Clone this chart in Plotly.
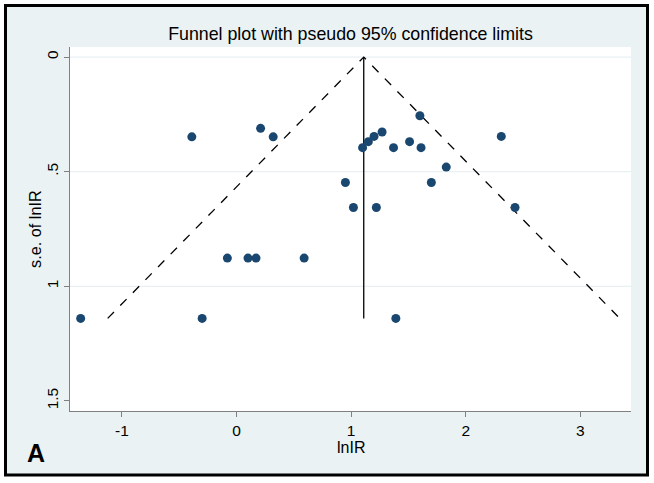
import plotly.graph_objects as go

# Study estimates (log incidence ratio) and their standard errors
lnIR = [-1.36, -0.30, -0.08, 0.10, 0.17, 0.59, -0.39, 0.21, 0.32,
        0.95, 1.02, 1.22, 1.10, 1.15, 1.20, 1.27, 1.37, 1.51, 1.60,
        1.61, 1.70, 1.83, 2.31, 2.43, 1.39]
se_lnIR = [1.14, 1.14, 0.877, 0.877, 0.877, 0.877, 0.348, 0.311, 0.348,
           0.547, 0.656, 0.656, 0.395, 0.369, 0.346, 0.327, 0.395, 0.369, 0.256,
           0.395, 0.547, 0.480, 0.346, 0.656, 1.14]
pooled = 1.11            # fixed-effect pooled lnIR
z95 = 1.96
x_ticks = [-1, 0, 1, 2, 3]
x_ticklabels = ["-1", "0", "1", "2", "3"]
y_ticks = [0, 0.5, 1, 1.5]
y_ticklabels = ["0", ".5", "1", "1.5"]
grid_vals = [0, 0.5, 1]

se_max = max(se_lnIR)
font = "Liberation Sans, Arial, Helvetica, sans-serif"
navy = "#1a476f"
axgray = "#808080"

fig = go.Figure()

# pseudo 95% confidence limits
fig.add_trace(go.Scatter(
    x=[pooled - z95 * se_max, pooled, pooled + z95 * se_max],
    y=[se_max, 0, se_max], mode="lines",
    line=dict(color="black", width=1.3, dash="dash"),
    hoverinfo="skip", showlegend=False))
# pooled estimate line
fig.add_trace(go.Scatter(
    x=[pooled, pooled], y=[0, se_max], mode="lines",
    line=dict(color="black", width=1.3), hoverinfo="skip", showlegend=False))
# studies
fig.add_trace(go.Scatter(
    x=lnIR, y=se_lnIR, mode="markers",
    marker=dict(color=navy, size=9, line=dict(width=0)),
    showlegend=False))

W, H = 654, 483
L, R, T, B = 70, 23, 47, 72
pw, ph = W - L - R, H - T - B

def px2paper_x(px):
    return (px - L) / pw

def px2paper_y(py):
    return (H - B - py) / ph

shapes = [
    # graph region (light bluish) with black frame
    dict(type="rect", xref="paper", yref="paper", layer="below",
         x0=px2paper_x(5.5), x1=px2paper_x(647.5),
         y0=px2paper_y(475), y1=px2paper_y(5.5),
         fillcolor="#eaf2f3", line=dict(color="black", width=3)),
    # plot region white
    dict(type="rect", xref="paper", yref="paper", layer="below",
         x0=0, x1=1, y0=0, y1=1, fillcolor="white", line=dict(width=0)),
]
for g in grid_vals:
    shapes.append(dict(type="line", xref="paper", yref="y", layer="below",
                       x0=0, x1=1, y0=g, y1=g,
                       line=dict(color="#e3edf0", width=1)))

fig.update_layout(
    width=W, height=H,
    margin=dict(l=L, r=R, t=T, b=B, autoexpand=False),
    paper_bgcolor="white", plot_bgcolor="white",
    font=dict(family=font, color="black", size=16),
    shapes=shapes,
    title=dict(text="Funnel plot with pseudo 95% confidence limits",
               x=px2paper_x(350.5), xref="paper", xanchor="center",
               y=1 - 34 / H, yanchor="middle", automargin=False,
               font=dict(size=17.8, family=font, color="black")),
    xaxis=dict(range=[-1.453, 3.442], tickvals=x_ticks, ticktext=x_ticklabels,
               automargin=False,
               ticks="outside", ticklen=5, tickcolor=axgray, tickwidth=1,
               showline=True, linecolor=axgray, linewidth=1,
               showgrid=False, zeroline=False, tickfont=dict(size=15.5)),
    yaxis=dict(range=[1.544, -0.044], tickvals=y_ticks, ticktext=y_ticklabels,
               tickangle=-90, automargin=False,
               ticks="outside", ticklen=5, tickcolor=axgray, tickwidth=1,
               showline=True, linecolor=axgray, linewidth=1,
               showgrid=False, zeroline=False, tickfont=dict(size=15.5)),
    annotations=[
        dict(text="<b>A</b>", xref="paper", yref="paper",
             x=px2paper_x(36), y=px2paper_y(453),
             xanchor="center", yanchor="middle", showarrow=False,
             font=dict(size=25, family=font, color="black")),
        dict(text="lnIR", xref="paper", yref="paper",
             x=0.5, y=px2paper_y(447.5), xanchor="center", yanchor="middle",
             showarrow=False, font=dict(size=16, family=font, color="black")),
        dict(text="s.e. of lnIR", xref="paper", yref="paper", textangle=-90,
             x=px2paper_x(35), y=0.5, xanchor="center", yanchor="middle",
             showarrow=False, font=dict(size=16.3, family=font, color="black")),
    ],
)

fig.write_html("out.html", config={"displayModeBar": False},
               post_script="document.body.style.margin='0';document.body.style.padding='0';")
